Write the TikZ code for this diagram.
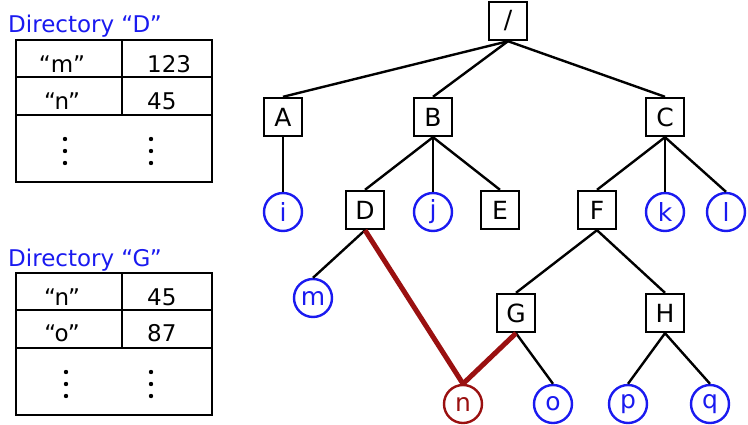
\documentclass[tikz,border=0pt]{standalone}
\usepackage{fontspec}
\setmainfont{DejaVu Sans}
\definecolor{azul}{HTML}{1A1AF0}
\definecolor{granate}{HTML}{9A1010}

\begin{document}
\begin{tikzpicture}[x=1pt, y=-1pt, every node/.style={font=\fontsize{25}{27}\selectfont}]
  \tikzset{
    carpeta/.style={rectangle,draw=black,fill=white,minimum size=38pt,inner sep=0pt,line width=2.4pt},
    archivo/.style={circle,draw=azul,text=azul,fill=white,minimum size=38pt,inner sep=0pt,line width=2.4pt},
    hallado/.style={archivo,draw=granate,text=granate},
    rama/.style={draw=black,line width=2.4pt},
    ruta/.style={draw=granate,line width=5pt},
    marco/.style={draw=black,line width=2.4pt},
    titulo/.style={anchor=base west,text=azul,inner sep=0pt,font=\fontsize{23}{25}\selectfont},
    nombre/.style={anchor=base,inner sep=0pt,font=\fontsize{23}{25}\selectfont},
    numero/.style={anchor=base west,inner sep=0pt,font=\fontsize{23}{25}\selectfont}
  }
  \useasboundingbox (0,0) rectangle (748,424);
  % directorio D
  \node[titulo] (tD) at (8,32) {Directory “D”};
  \draw[marco] (16,40) rectangle (212,182);
  \draw[marco] (16,77) -- (212,77) (16,115) -- (212,115) (122,40) -- (122,115);
  \node[nombre] (dm) at (62,72) {“m”};
  \node[numero] (dmv) at (147,72) {123};
  \node[nombre] (dn) at (62,109) {“n”};
  \node[numero] (dnv) at (147,109) {45};
  \fill (65,139) circle (2.2pt) (65,151) circle (2.2pt) (65,163) circle (2.2pt);
  \fill (151,139) circle (2.2pt) (151,151) circle (2.2pt) (151,163) circle (2.2pt);
  % directorio G
  \node[titulo] (tG) at (8,266) {Directory “G”};
  \draw[marco] (16,273) rectangle (212,415);
  \draw[marco] (16,310) -- (212,310) (16,348) -- (212,348) (122,273) -- (122,348);
  \node[nombre] (gn) at (62,305) {“n”};
  \node[numero] (gnv) at (147,305) {45};
  \node[nombre] (go) at (62,341) {“o”};
  \node[numero] (gov) at (147,341) {87};
  \fill (66,372) circle (2.2pt) (66,384) circle (2.2pt) (66,396) circle (2.2pt);
  \fill (151,372) circle (2.2pt) (151,384) circle (2.2pt) (151,396) circle (2.2pt);
  % arbol
  \node[carpeta] (raiz) at (508,21) {/};
  \node[carpeta] (a) at (283,117) {A};
  \node[carpeta] (b) at (433,117) {B};
  \node[carpeta] (c) at (665,117) {C};
  \node[archivo] (i) at (283,212) {i};
  \node[carpeta] (d) at (365,210) {D};
  \node[archivo] (j) at (433,212) {j};
  \node[carpeta] (e) at (500,210) {E};
  \node[carpeta] (f) at (597,210) {F};
  \node[archivo] (k) at (665,212) {k};
  \node[archivo] (l) at (726,212) {l};
  \node[archivo] (m) at (313,298) {m};
  \node[carpeta] (g) at (516,313) {G};
  \node[carpeta] (h) at (665,313) {H};
  \node[hallado] (n) at (463,404) {n};
  \node[archivo] (o) at (553,404) {o};
  \node[archivo] (p) at (628,404) {p};
  \node[archivo] (q) at (710,404) {q};
  \draw[rama] (raiz.south) -- (a.north);
  \draw[rama] (raiz.south) -- (b.north);
  \draw[rama] (raiz.south) -- (c.north);
  \draw[rama] (a.south) -- (i.north);
  \draw[rama] (b.south) -- (d.north);
  \draw[rama] (b.south) -- (j.north);
  \draw[rama] (b.south) -- (e.north);
  \draw[rama] (c.south) -- (f.north);
  \draw[rama] (c.south) -- (k.north);
  \draw[rama] (c.south) -- (l.north);
  \draw[rama] (d.south) -- (m.north);
  \draw[rama] (f.south) -- (g.north);
  \draw[rama] (f.south) -- (h.north);
  \draw[rama] (g.south) -- (o.north);
  \draw[rama] (h.south) -- (p.north);
  \draw[rama] (h.south) -- (q.north);
  \draw[ruta] (d.south) -- (n.north);
  \draw[ruta] (g.south) -- (n.north);
\end{tikzpicture}
\end{document}
